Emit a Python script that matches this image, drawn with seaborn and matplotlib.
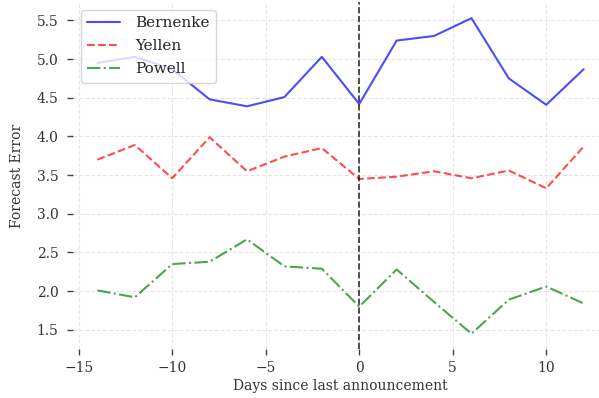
import numpy as np
import pandas as pd
import matplotlib
matplotlib.use("Agg")
import matplotlib.pyplot as plt
import seaborn as sns

# Days relative to the most recent announcement
days = [-14, -12, -10, -8, -6, -4, -2, 0, 2, 4, 6, 8, 10, 12]

# Forecast error for each chair's tenure
bernenke = [4.95, 5.03, 4.87, 4.48, 4.39, 4.51, 5.03, 4.42, 5.24, 5.30, 5.53, 4.75, 4.41, 4.87]
yellen = [3.70, 3.89, 3.46, 3.99, 3.55, 3.74, 3.85, 3.45, 3.48, 3.55, 3.46, 3.56, 3.33, 3.87]
powell = [2.01, 1.92, 2.35, 2.38, 2.67, 2.32, 2.29, 1.80, 2.28, 1.86, 1.45, 1.89, 2.06, 1.84]

series_names = ["Bernenke", "Yellen", "Powell"]
series_colors = ["blue", "red", "green"]
series_styles = ["-", "--", "-."]

sns.set_style("ticks", {
    "axes.grid": True,
    "grid.linestyle": "--",
    "grid.color": "#e6e6e6",
})
plt.rcParams["font.family"] = ["DejaVu Serif"]
plt.rcParams["font.size"] = 10
plt.rcParams["xtick.major.size"] = 4
plt.rcParams["ytick.major.size"] = 4
plt.rcParams["xtick.direction"] = "out"
plt.rcParams["ytick.direction"] = "out"
plt.rcParams["xtick.labelcolor"] = "#333333"
plt.rcParams["ytick.labelcolor"] = "#333333"
plt.rcParams["axes.labelcolor"] = "#333333"

df = pd.DataFrame({"days": days, "Bernenke": bernenke, "Yellen": yellen, "Powell": powell})

fig = plt.figure(figsize=(5.99, 3.98), dpi=100)
ax = fig.add_axes([0.122, 0.122, 0.893, 0.872])

for name, color, ls in zip(series_names, series_colors, series_styles):
    sns.lineplot(data=df, x="days", y=name, ax=ax, color=color, linestyle=ls,
                 alpha=0.7, linewidth=1.5, label=name)

ax.axvline(0, color="black", linestyle="--", linewidth=1.2, alpha=0.8)

ax.set_xlabel("Days since last announcement", fontsize=10, labelpad=3)
ax.set_ylabel("Forecast Error", fontsize=10, labelpad=9)
ax.set_yticks([1.5, 2.0, 2.5, 3.0, 3.5, 4.0, 4.5, 5.0, 5.5])
ax.set_xticks([-15, -10, -5, 0, 5, 10])
ax.tick_params(axis="both", which="major", left=True, bottom=True,
               length=4, width=1.0, labelsize=10, color="#444444")
ax.tick_params(axis="y", pad=6.5)
ax.tick_params(axis="x", pad=4)
ax.grid(True, linestyle="--", color="#e6e6e6", linewidth=0.8)
for side in ("left", "right", "top", "bottom"):
    ax.spines[side].set_visible(False)

leg = ax.legend(loc="upper left", frameon=True, fontsize=11, framealpha=0.8,
                labelspacing=0.6, handletextpad=0.95, handlelength=2.2)
leg.get_frame().set_edgecolor("#cccccc")

fig.savefig("out.png", dpi=100)
